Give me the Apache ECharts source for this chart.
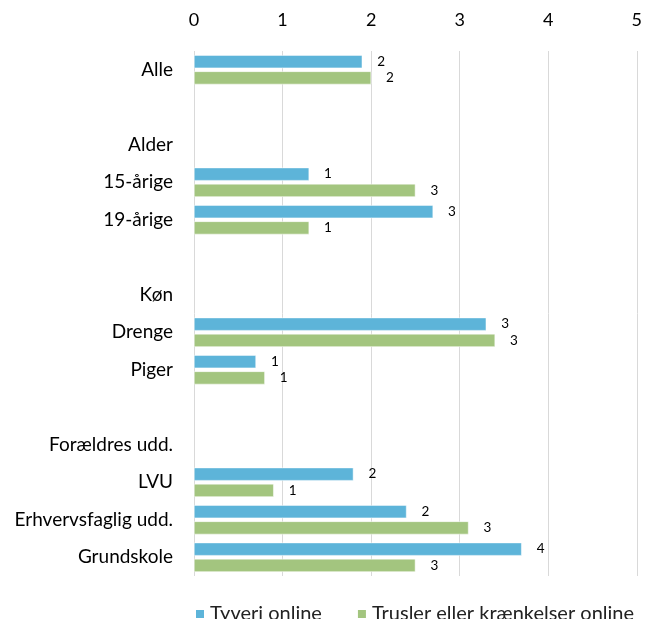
<!DOCTYPE html>
<html>
<head>
<meta charset="utf-8">
<script src="https://cdn.jsdelivr.net/npm/echarts@6/dist/echarts.min.js"></script>
<style>html,body{margin:0;padding:0;background:#fff}#c{width:645px;height:619px}</style>
</head>
<body>
<div id="c"></div>
<script>
const categories = ['Alle', '', 'Alder', '15-årige', '19-årige', ' ', 'Køn', 'Drenge', 'Piger', '  ', 'Forældres udd.', 'LVU', 'Erhvervsfaglig udd.', 'Grundskole'];
const tyveri = [1.9, null, null, 1.3, 2.7, null, null, 3.3, 0.7, null, null, 1.8, 2.4, 3.7];
const trusler = [2.0, null, null, 2.5, 1.3, null, null, 3.4, 0.8, null, null, 0.9, 3.1, 2.5];
const seriesNames = ['Tyveri online', 'Trusler eller krænkelser online'];
const xTicks = [0, 1, 2, 3, 4, 5];

const font = 'Lato, "Open Sans", sans-serif';
const chart = echarts.init(document.getElementById('c'));
const labelCfg = {
  show: true, position: 'right', distance: 15, color: '#000', fontSize: 13.5, fontFamily: font,
  formatter: p => (p.value == null ? '' : String(Math.round(p.value)))
};
chart.setOption({
  animation: false,
  grid: { left: 194, right: 6, top: 51, bottom: 43, containLabel: false },
  legend: {
    top: 599, itemWidth: 10, itemHeight: 10, itemGap: 34, icon: 'rect',
    left: 189,
    textStyle: { fontSize: 20, fontFamily: font, color: '#222', padding: [0, 0, 0, 0] },
    data: seriesNames
  },
  xAxis: {
    type: 'value', position: 'top', min: 0, max: 5, interval: 1,
    axisLine: { show: false }, axisTick: { show: false },
    splitLine: { lineStyle: { color: '#d9d9d9' } },
    axisLabel: { fontSize: 18, fontFamily: font, color: '#000', margin: 22,
      formatter: v => String(xTicks[v] !== undefined ? xTicks[v] : v) }
  },
  yAxis: {
    type: 'category', data: categories, inverse: true,
    axisLine: { show: false }, axisTick: { show: false },
    axisLabel: { fontSize: 19, fontFamily: font, color: '#000', margin: 21 }
  },
  series: [
    { name: seriesNames[0], type: 'bar', data: tyveri, barWidth: 13, barGap: '25%',
      itemStyle: { color: '#5db4d9', borderColor: '#ffffff', borderWidth: 0.5 }, label: labelCfg },
    { name: seriesNames[1], type: 'bar', data: trusler, barWidth: 13, barGap: '25%',
      itemStyle: { color: '#a3c57f', borderColor: '#ffffff', borderWidth: 0.5 }, label: labelCfg }
  ]
});
</script>
</body>
</html>
